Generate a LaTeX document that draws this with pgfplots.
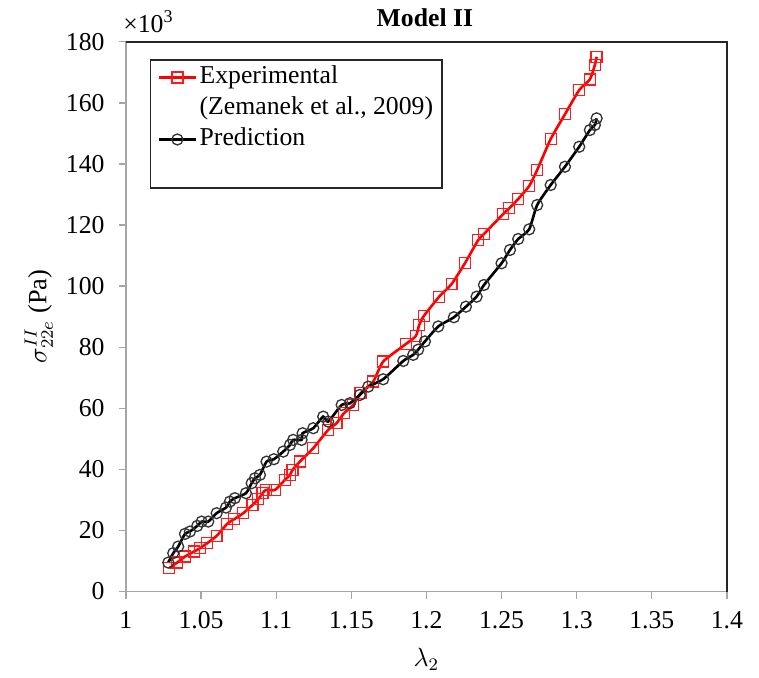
\documentclass[border=0pt]{standalone}
\usepackage{fontspec}
\setmainfont{Liberation Serif}
\usepackage{pgfplots}
\pgfplotsset{compat=1.18}
\begin{document}
\begin{tikzpicture}
\begin{axis}[
  name=ax,
  scale only axis,
  width=273.5pt, height=250.2pt,
  xmin=1, xmax=1.4, ymin=0, ymax=180,
  xtick={1,1.05,1.1,1.15,1.2,1.25,1.3,1.35,1.4},
  xticklabels={1,1.05,1.1,1.15,1.2,1.25,1.3,1.35,1.4},
  ytick={0,20,40,60,80,100,120,140,160,180},
  yticklabels={0,20,40,60,80,100,120,140,160,180},
  tick align=outside, tick pos=left,
  major tick length=3.2pt,
  tick style={gray!70, line width=0.6pt},
  axis line style={gray!70, line width=0.7pt},
  ticklabel style={font=\fontsize{11.7}{13}\selectfont},
  xticklabel style={yshift=-2.5pt},
  yticklabel style={xshift=-3pt},
  clip=false,
  xlabel={$\lambda_2$},
  xlabel style={at={(axis description cs:0.5,-0.124)}, anchor=center, font=\large},
  ylabel={$\sigma^{II}_{22e}$ (Pa)},
  ylabel style={at={(axis description cs:-0.145,0.5)}, anchor=center, font=\fontsize{12}{14}\selectfont},
  legend style={at={(axis description cs:0.040,0.9685)}, anchor=north west,
    draw=black!85, line width=0.7pt, inner xsep=3pt, inner ysep=1.5pt,
    row sep=1pt,
    nodes={inner sep=1pt, text height=8.3pt, text depth=2.8pt, font=\fontsize{11.7}{13}\selectfont}},
  legend cell align=left,
]
\addplot[red, line width=1.2pt, smooth, tension=0.35, mark=square, mark size=2.5pt,
  mark options={solid, line width=0.6pt, draw=red!90}] coordinates {
(1.0288,7.66) (1.0341,9.49) (1.0393,11.45) (1.0453,13.09) (1.0493,14.20)
(1.0541,15.84) (1.0604,18.23) (1.0674,22.16) (1.0721,23.69) (1.0781,25.66)
(1.0843,28.37) (1.0881,30.24) (1.0910,32.20) (1.0932,33.28) (1.0992,33.28)
(1.1058,36.56) (1.1092,38.19) (1.1109,39.83) (1.1158,42.54) (1.1247,46.93)
(1.1346,52.92) (1.1402,55.11) (1.1451,58.38) (1.1513,61.10) (1.1562,64.93)
(1.1646,68.73) (1.1712,75.27) (1.1864,81.06) (1.1930,83.68) (1.1952,87.28)
(1.1983,90.23) (1.2085,96.54) (1.2168,100.70) (1.2256,107.47) (1.2345,115.10)
(1.2383,117.06) (1.2511,123.61) (1.2551,125.47) (1.2611,128.52) (1.2684,132.77)
(1.2737,138.01) (1.2827,148.15) (1.2922,156.24) (1.3017,164.19) (1.3088,167.69)
(1.3121,172.37) (1.3133,175.09)
};
\addlegendentry{Experimental}
\addlegendimage{empty legend}
\addlegendentry{(Zemanek et al., 2009)}
\addplot[black, line width=1.2pt, smooth, tension=0.35, mark=o, mark size=2.5pt,
  mark options={solid, line width=0.6pt, draw=black!80}] coordinates {
(1.0282,9.49) (1.0315,12.57) (1.0348,14.73) (1.0393,18.88) (1.0426,19.64)
(1.0475,21.50) (1.0504,22.91) (1.0548,22.91) (1.0604,25.66) (1.0666,27.49)
(1.0692,29.45) (1.0725,30.57) (1.0799,32.20) (1.0837,35.48) (1.0859,37.11)
(1.0892,38.19) (1.0936,42.54) (1.0985,43.33) (1.1047,45.82) (1.1092,48.01)
(1.1113,49.65) (1.1169,49.65) (1.1176,51.84) (1.1247,53.48) (1.1313,57.27)
(1.1346,55.64) (1.1436,61.10) (1.1491,61.66) (1.1557,64.37) (1.1613,67.09)
(1.1712,69.5) (1.1846,75.5) (1.1912,77.5) (1.1945,79.2) (1.1990,81.9)
(1.2079,86.8) (1.2183,89.80) (1.2263,93.27) (1.2334,96.54) (1.2383,100.37)
(1.2500,107.47) (1.2556,111.83) (1.2611,115.43) (1.2684,118.60) (1.2737,126.55)
(1.2827,133.10) (1.2922,139.09) (1.3017,145.63) (1.3088,151.10) (1.3121,152.74)
(1.3133,154.93)
};
\addlegendentry{Prediction}
\addlegendimage{empty legend}
\addlegendentry{}
\draw[black!85, line width=0.8pt] (rel axis cs:0,1) -- (rel axis cs:1,1) -- (rel axis cs:1,0);
\node[anchor=west, font=\fontsize{11.7}{13}\selectfont, inner sep=0pt] at (axis description cs:-0.005,1.037) {×10\textsuperscript{3}};
\node[anchor=center, font=\fontsize{11.7}{13}\selectfont\bfseries, inner sep=0pt] at (axis description cs:0.4975,1.043) {Model II};
\end{axis}
\pgfresetboundingbox
\path ([xshift=-57.3pt,yshift=-39.3pt]ax.south west) rectangle ([xshift=14.6pt,yshift=19.0pt]ax.north east);
\end{tikzpicture}
\end{document}
